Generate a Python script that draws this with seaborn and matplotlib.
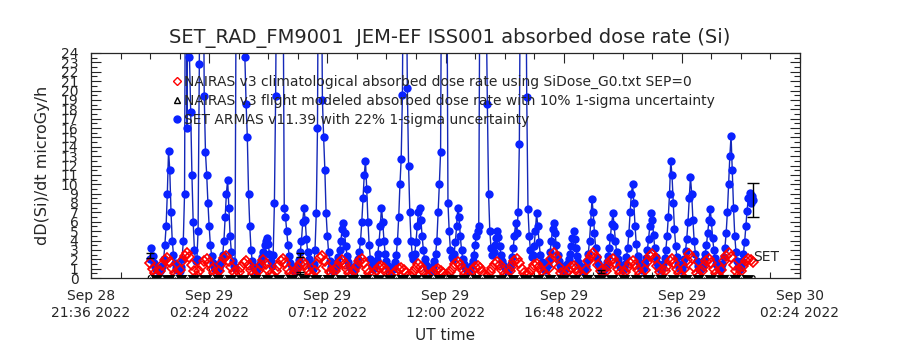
import matplotlib
matplotlib.use("Agg")
import matplotlib.pyplot as plt
from matplotlib.lines import Line2D
from matplotlib.ticker import MultipleLocator
import seaborn as sns
import pandas as pd
import numpy as np

# === Values ===
start = pd.Timestamp("2022-09-29 00:00")

# NAIRAS v3 climatological dose rate, one value every 6 min
nairas_clim = [
    1.6, 1.0, 0.5,
    0.25, 0.7, 1.4, 1.9, 2.1, 1.7, 1.1, 0.5,
    0.25, 0.9, 1.8, 2.4, 2.7, 2.2, 1.4, 0.7,
    0.25, 0.7, 1.3, 1.8, 2.0, 1.6, 1.0, 0.5,
    0.25, 0.8, 1.5, 2.1, 2.3, 1.8, 1.2, 0.6,
    0.25, 0.6, 1.2, 1.6, 1.8, 1.4, 0.9, 0.45,
    0.25, 0.8, 1.4, 1.9, 1.5, 0.9, 0.4,
    0.25, 0.7, 1.3, 1.8, 2.0, 1.6, 1.0, 0.5,
    0.25, 0.6, 1.1, 1.5, 1.7, 1.4, 0.9, 0.4,
    0.25, 0.8, 1.5, 2.1, 2.3, 1.8, 1.2, 0.6,
    0.25, 0.7, 1.2, 1.7, 1.9, 1.5, 1.0, 0.5,
    0.25, 0.7, 1.3, 1.8, 2.0, 1.6, 1.0, 0.5,
    0.25, 0.5, 0.85, 1.2, 1.3, 1.05, 0.65, 0.35,
    0.25, 0.4, 0.7, 1.0, 1.1, 0.9, 0.55, 0.3,
    0.25, 0.6, 1.1, 1.5, 1.2, 0.7, 0.3,
    0.2, 0.35, 0.65, 0.9, 1.0, 0.8, 0.5, 0.3,
    0.25, 0.6, 1.1, 1.5, 1.7, 1.4, 0.9, 0.4,
    0.25, 0.5, 0.85, 1.2, 1.3, 1.05, 0.65, 0.35,
    0.25, 0.6, 1.1, 1.5, 1.7, 1.4, 0.9, 0.4,
    0.25, 0.7, 1.3, 1.8, 2.0, 1.6, 1.0, 0.5,
    0.25, 0.5, 1.0, 1.35, 1.5, 1.2, 0.75, 0.4,
    0.25, 1.1, 2.0, 2.7, 2.2, 1.2, 0.5,
    0.25, 0.5, 0.85, 1.2, 1.3, 1.05, 0.65, 0.35,
    0.25, 0.9, 1.8, 2.4, 2.7, 2.2, 1.4, 0.7,
    0.25, 0.7, 1.3, 1.8, 2.0, 1.6, 1.0, 0.5,
    0.25, 0.6, 1.2, 1.6, 1.8, 1.4, 0.9, 0.45,
    0.25, 0.9, 1.7, 2.3, 2.6, 2.1, 1.3, 0.65,
    0.25, 0.7, 1.3, 1.8, 2.0, 1.6, 1.0, 0.5,
    0.25, 1.0, 1.9, 2.6, 2.1, 1.2, 0.5,
    0.25, 0.7, 1.3, 1.8, 2.0, 1.6, 1.0, 0.5,
    0.25, 0.9, 1.8, 2.4, 2.7, 2.2, 1.4, 0.7,
    0.25, 0.7, 1.3, 1.8, 2.0, 1.9, 1.7,
]

# SET ARMAS v11.39 dose rate, one value every 3 min (values > 24 run off the top)
set_armas = [
    2.0, 3.2, 2.4, 1.6, 1.2, 1.0, 0.9,
    0.8, 0.7, 1.0, 1.3, 2.0, 3.5, 5.5, 9.0, 13.6, 11.5, 7.0, 4.0, 2.5, 1.6, 1.1, 0.9,
    1.0, 0.8, 1.2, 2.0, 4.0, 9.0, 45, 16, 40, 23.6, 17.7, 11, 6.0, 3.0, 1.8,
    2.0, 5.0, 22.8, 48, 55, 40, 19.4, 13.4, 11.0, 8.0, 5.5, 3.5, 2.4, 1.6, 1.2, 1.0,
    0.9, 0.8, 1.1, 1.4, 1.8, 2.5, 4.0, 6.5, 9.0, 10.5, 7.5, 4.5, 2.8, 1.8, 1.3, 1.1,
    35, 50, 60, 62, 55, 45, 32, 23.6, 18.6, 15.0, 9.0, 5.5, 3.0, 1.8, 1.2,
    1.0, 0.8, 1.0, 1.2, 1.5, 1.8, 2.2, 2.8, 3.5, 4.0, 4.3, 3.6, 2.6, 1.8, 1.3, 2.5,
    8.0, 19.4, 38, 55, 65, 60, 48, 34, 7.5, 6.5, 5.0, 3.5, 2.4, 1.6, 1.2, 1.0,
    0.9, 0.8, 1.1, 1.4, 1.9, 2.8, 4.0, 6.0, 7.5, 6.2, 4.2, 2.8, 2.0, 1.5, 1.2, 1.0,
    1.5, 3.0, 6.9, 16, 45, 52, 38, 19, 15, 11.5, 6.9, 4.5, 2.8, 1.8, 1.2,
    1.0, 0.8, 1.1, 1.3, 1.7, 2.2, 3.0, 4.0, 5.2, 5.9, 4.8, 3.4, 2.4, 1.7, 1.3, 1.0,
    0.9, 0.8, 1.0, 1.3, 1.6, 2.0, 2.8, 4.0, 6.0, 8.5, 11.0, 12.5, 9.5, 6.0, 3.5, 2.0,
    1.3, 1.0, 1.1, 1.4, 1.9, 2.6, 3.8, 5.5, 7.5, 6.0, 4.0, 2.6, 1.8, 1.3, 1.0,
    0.9, 0.8, 1.0, 1.3, 1.7, 2.5, 4.0, 6.5, 10.0, 12.7, 19.5, 42, 50, 36, 20.3, 12.0,
    7.0, 4.0, 2.5, 2.0, 2.6, 3.8, 5.5, 7.0, 7.5, 6.2, 4.5, 3.0, 2.0, 1.4, 1.1, 1.0,
    0.9, 0.8, 1.0, 1.3, 1.8, 2.6, 4.0, 7.0, 10.0, 13.4, 40, 55, 60, 52, 38, 8.0,
    5.0, 3.0, 2.2, 2.0, 2.6, 3.8, 5.5, 7.5, 6.5, 4.5, 3.0, 2.0, 1.5, 1.2, 1.0,
    0.9, 0.8, 1.0, 1.3, 1.8, 2.5, 3.5, 4.5, 5.0, 5.5, 35, 50, 58, 55, 45, 30,
    18.6, 9.0, 5.0, 3.2, 2.5, 2.8, 3.5, 4.3, 5.0, 4.4, 3.4, 2.5, 1.8, 1.4, 1.1, 1.0,
    0.9, 0.8, 1.1, 1.5, 2.2, 3.2, 4.5, 5.9, 4.8, 7.0, 14.3, 38, 52, 60, 55,
    40, 19.3, 7.4, 4.5, 3.0, 2.2, 2.5, 3.4, 5.0, 6.9, 5.5, 3.8, 2.5, 1.7, 1.3, 1.0,
    0.9, 1.1, 1.4, 1.9, 2.8, 4.0, 5.2, 5.9, 4.8, 3.5, 2.5, 1.8, 1.4, 1.1, 0.9, 0.8,
    1.0, 1.2, 1.5, 2.0, 2.6, 3.4, 4.3, 5.0, 4.2, 3.2, 2.3, 1.7, 1.3, 1.1, 0.9, 0.8,
    1.0, 1.3, 1.8, 2.6, 4.0, 6.0, 8.4, 7.0, 4.8, 3.2, 2.2, 1.6, 1.2, 1.0, 0.9,
    0.8, 1.0, 1.3, 1.7, 2.3, 3.2, 4.4, 5.8, 6.9, 5.6, 4.0, 2.8, 2.0, 1.5, 1.2, 1.0,
    0.9, 1.1, 1.5, 2.2, 3.2, 4.8, 7.0, 9.0, 10.0, 8.0, 5.5, 3.6, 2.4, 1.7, 1.3, 1.0,
    0.9, 1.1, 1.5, 2.1, 3.0, 4.2, 5.6, 6.9, 6.2, 4.6, 3.2, 2.2, 1.6, 1.2, 1.0,
    0.9, 1.1, 1.5, 2.1, 3.0, 4.5, 6.5, 9.0, 12.5, 11.0, 8.0, 5.2, 3.4, 2.2, 1.5, 1.1,
    0.9, 1.0, 1.4, 2.0, 2.9, 4.2, 6.0, 8.5, 10.8, 9.0, 6.2, 4.0, 2.6, 1.8, 1.3, 1.0,
    0.9, 1.1, 1.4, 1.9, 2.6, 3.5, 4.8, 6.2, 7.4, 6.0, 4.3, 3.0, 2.1, 1.5, 1.2, 1.0,
    0.9, 1.1, 1.5, 2.2, 3.2, 4.8, 7.0, 10.0, 13.0, 15.2, 11.5, 7.5, 4.5, 2.8, 1.8,
    1.2, 1.0, 1.3, 1.8, 2.6, 3.8, 5.5, 7.2, 8.5, 9.1, 8.0, 8.8, 8.3,
]

# NAIRAS v3 flight modeled, one value every 30 min (sits on the floor)
nairas_flight = [
    0.06, 0.05, 0.07, 0.06, 0.05, 0.06, 0.07, 0.05, 0.06, 0.06,
    0.05, 0.07, 0.06, 0.05, 0.06, 0.06, 0.05, 0.07, 0.06, 0.05,
    0.06, 0.07, 0.05, 0.06, 0.06, 0.05, 0.07, 0.06, 0.05, 0.06,
    0.06, 0.05, 0.07, 0.06, 0.05, 0.06, 0.07, 0.05, 0.06, 0.06,
    0.05, 0.07, 0.06, 0.05, 0.06, 0.06, 0.05, 0.07, 0.06, 0.05,
]

# NAIRAS 10% 1-sigma error bars
err_times = ["2022-09-29 00:00", "2022-09-29 06:06", "2022-09-29 06:06",
             "2022-09-29 12:12", "2022-09-29 18:18"]
err_values = [2.4, 2.45, 0.55, 0.28, 0.7]
err_sigma = [0.25, 0.25, 0.12, 0.05, 0.2]

set_sigma = 0.22  # SET ARMAS 1-sigma fraction

tick_labels = ["Sep 28\n21:36 2022", "Sep 29\n02:24 2022", "Sep 29\n07:12 2022",
               "Sep 29\n12:00 2022", "Sep 29\n16:48 2022", "Sep 29\n21:36 2022",
               "Sep 30\n02:24 2022"]
legend_labels = [
    "NAIRAS v3 climatological absorbed dose rate using SiDose_G0.txt SEP=0",
    "NAIRAS v3 flight modeled absorbed dose rate with 10% 1-sigma uncertainty",
    "SET ARMAS v11.39 with 22% 1-sigma uncertainty",
]
title = "SET_RAD_FM9001  JEM-EF ISS001 absorbed dose rate (Si)"

# === Time axes ===
clim_t = start + pd.to_timedelta(np.arange(len(nairas_clim)) * 6, unit="min")
set_t = start + pd.to_timedelta(np.arange(len(set_armas)) * 3, unit="min")
flight_t = start + pd.to_timedelta(np.arange(len(nairas_flight)) * 30, unit="min")

x0 = pd.Timestamp("2022-09-28 21:36")
x1 = pd.Timestamp("2022-09-30 02:24")
major_ticks = pd.date_range(x0, x1, freq="288min")
minor_ticks = pd.date_range(x0, x1, freq="72min")

# === Plot ===
sns.set_style("ticks")
plt.rcParams["font.family"] = ["DejaVu Sans"]

blue_line = "#1428b8"
blue_dot = "#0a22ff"
fig = plt.figure(figsize=(9, 3.5), dpi=100)
ax = fig.add_axes([91 / 900, 72 / 350, 709 / 900, 225 / 350])

sns.lineplot(x=set_t, y=set_armas, ax=ax, color=blue_line, lw=1.0, marker="o",
             markersize=6, mfc=blue_dot, mec=blue_dot, markeredgewidth=0,
             estimator=None, errorbar=None)
sns.lineplot(x=clim_t, y=nairas_clim, ax=ax, color="red", ls="none", marker="D",
             markersize=5, mfc="none", mec="#ff0000", mew=1.2,
             estimator=None, errorbar=None)
sns.lineplot(x=flight_t, y=nairas_flight, ax=ax, color="black", lw=3.5, marker="^",
             markersize=2.5, estimator=None, errorbar=None)

ax.errorbar(pd.to_datetime(err_times), err_values, yerr=err_sigma, fmt="none",
            ecolor="black", elinewidth=1, capsize=3, capthick=1)
ax.errorbar([set_t[-1]], [set_armas[-1]], yerr=[set_armas[-1] * set_sigma],
            fmt="none", ecolor="black", elinewidth=1, capsize=4, capthick=1)
ax.text(set_t[-1], 2.2, "SET", fontsize=10, ha="left", va="center")

ax.set_xlim(x0, x1)
ax.set_ylim(0, 24)
ax.set_xticks(major_ticks)
ax.set_xticklabels(tick_labels, fontsize=10, linespacing=1.25)
ax.set_xticks(minor_ticks, minor=True)
ax.set_yticks(range(0, 25))
ax.set_yticklabels([str(v) for v in range(0, 25)], fontsize=10)
ax.yaxis.set_minor_locator(MultipleLocator(0.5))
ax.tick_params(which="both", direction="in", top=True, right=True, width=0.8)
ax.tick_params(which="major", length=7)
ax.tick_params(which="minor", length=4)
ax.tick_params(axis="x", which="major", pad=8)
ax.tick_params(axis="y", which="major", pad=9)
for s in ax.spines.values():
    s.set_linewidth(0.9)
ax.set_xlabel("")
ax.set_ylabel("")

handles = [
    Line2D([], [], ls="none", marker="D", mfc="none", mec="red", ms=4, mew=1),
    Line2D([], [], ls="none", marker="^", mfc="none", mec="black", ms=5, mew=1),
    Line2D([], [], ls="none", marker="o", color=blue_dot, ms=5),
]
ax.legend(handles, legend_labels, loc="upper left", bbox_to_anchor=(0.115, 0.905),
          frameon=False, fontsize=10, handlelength=0.6, handletextpad=0.25,
          labelspacing=0.38, borderpad=0, borderaxespad=0)

fig.text(450 / 900, 1 - 38 / 350, title, ha="center", va="center", fontsize=14)
fig.text(43 / 900, 1 - 165 / 350, "dD(Si)/dt microGy/h", rotation=90,
         ha="center", va="center", fontsize=11.5)
fig.text(445 / 900, 1 - 335 / 350, "UT time", ha="center", va="center", fontsize=11)

fig.savefig("out.png", dpi=100)
